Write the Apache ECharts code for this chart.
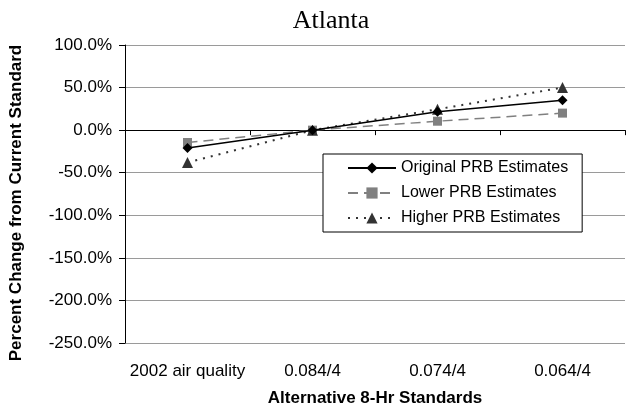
<!DOCTYPE html>
<html>
<head>
<meta charset="utf-8">
<script src="https://cdn.jsdelivr.net/npm/echarts@6/dist/echarts.min.js"></script>
<style>html,body{margin:0;padding:0;background:#fff}#c{width:639px;height:409px}</style>
</head>
<body>
<div id="c"></div>
<script>
const categories = ['2002 air quality', '0.084/4', '0.074/4', '0.064/4'];
const originalPRB = [-21, 0, 21.5, 35];
const lowerPRB = [-14.5, 0, 10.5, 20];
const higherPRB = [-38, 0, 24.5, 50];
const seriesNames = ['Original PRB Estimates', 'Lower PRB Estimates', 'Higher PRB Estimates'];

const FONT = '"Liberation Sans", Arial, sans-serif';
const chart = echarts.init(document.getElementById('c'), null, {renderer: 'canvas'});
chart.setOption({
  animation: false,
  backgroundColor: '#fff',
  title: {
    text: 'Atlanta', left: 326, top: 3, textAlign: 'center',
    textStyle: {fontFamily: '"Liberation Serif", "Times New Roman", serif', fontSize: 26, fontWeight: 'normal', color: '#000'}
  },
  grid: {left: 125, right: 14, top: 45, bottom: 66, containLabel: false, outerBoundsMode: 'none'},
  legend: {
    orient: 'vertical', left: 323, top: 154,
    backgroundColor: '#fff', borderColor: '#000', borderWidth: 1, borderRadius: 0,
    padding: [6, 14, 6, 24], itemWidth: 48, itemHeight: 14, itemGap: 9,
    textStyle: {fontFamily: FONT, fontSize: 16, color: '#000', lineHeight: 14},
    data: seriesNames
  },
  xAxis: [
    {
      type: 'category', data: categories, position: 'bottom', boundaryGap: true,
      axisLine: {show: false, onZero: false}, axisTick: {show: false},
      axisLabel: {fontFamily: FONT, fontSize: 17, color: '#000', margin: 20, interval: 0},
      name: 'Alternative 8-Hr Standards', nameLocation: 'middle', nameGap: 47,
      nameTextStyle: {fontFamily: FONT, fontSize: 17, fontWeight: 'bold', color: '#000'},
      splitLine: {show: false}
    },
    {
      type: 'category', data: categories, position: 'bottom', boundaryGap: true,
      axisLine: {show: true, onZero: true, lineStyle: {color: '#000', width: 1}},
      axisTick: {show: true, inside: false, length: 5, interval: 0, lineStyle: {color: '#000'}},
      axisLabel: {show: false}, splitLine: {show: false}
    }
  ],
  yAxis: {
    type: 'value', min: -250, max: 100, interval: 50,
    axisLine: {show: true, lineStyle: {color: '#000', width: 1}},
    axisTick: {show: true, inside: false, length: 6, lineStyle: {color: '#000'}},
    axisLabel: {fontFamily: FONT, fontSize: 17, color: '#000', margin: 13,
      formatter: v => v.toFixed(1) + '%'},
    splitLine: {show: true, lineStyle: {color: '#9a9a9a', width: 1}},
    name: 'Percent Change from Current Standard', nameLocation: 'middle', nameGap: 100,
    nameTextStyle: {fontFamily: FONT, fontSize: 17, fontWeight: 'bold', color: '#000', padding: [0, 18, 0, 0]}
  },
  series: [
    {
      name: seriesNames[0], type: 'line', data: originalPRB, xAxisIndex: 0,
      symbol: 'diamond', symbolSize: 10, color: '#000',
      lineStyle: {color: '#000', width: 1.5, type: 'solid'},
      itemStyle: {color: '#000'}, z: 4
    },
    {
      name: seriesNames[1], type: 'line', data: lowerPRB, xAxisIndex: 0,
      symbol: 'rect', symbolSize: 9, color: '#808080',
      lineStyle: {color: '#808080', width: 1.5, type: [10, 6]},
      itemStyle: {color: '#808080'}, z: 3
    },
    {
      name: seriesNames[2], type: 'line', data: higherPRB, xAxisIndex: 0,
      symbol: 'triangle', symbolSize: 11, color: '#333',
      lineStyle: {color: '#333', width: 2, type: [2, 6]},
      itemStyle: {color: '#333'}, z: 3
    }
  ]
});
</script>
</body>
</html>
